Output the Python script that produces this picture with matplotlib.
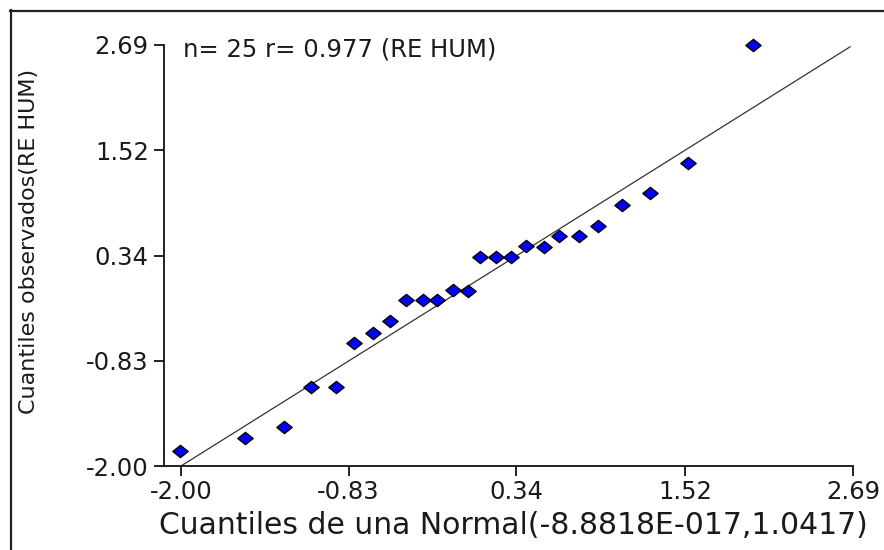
import matplotlib
matplotlib.use("Agg")
import matplotlib.pyplot as plt
from matplotlib.lines import Line2D
from matplotlib.path import Path

plt.rcParams['font.family'] = ['DejaVu Sans']
plt.rcParams['axes.unicode_minus'] = False

# Data
theo_q = [-2.01, -1.55, -1.28, -1.09, -0.92, -0.79, -0.66, -0.54, -0.43, -0.31,
          -0.21, -0.10, 0.00, 0.09, 0.20, 0.30, 0.41, 0.53, 0.64, 0.78,
          0.91, 1.08, 1.27, 1.54, 1.99]
obs_q = [-1.83, -1.69, -1.57, -1.12, -1.12, -0.63, -0.52, -0.39, -0.15, -0.15,
         -0.15, -0.04, -0.05, 0.33, 0.33, 0.33, 0.45, 0.44, 0.56, 0.56,
         0.67, 0.91, 1.04, 1.38, 2.69]
ref_line_x = [-2.00, 2.67]
ref_line_y = [-2.00, 2.67]
tick_vals = [-2.00, -0.83, 0.34, 1.52, 2.69]
tick_labels = ['-2.00', '-0.83', '0.34', '1.52', '2.69']
title_text = 'n= 25 r= 0.977 (RE HUM)'
xlabel = 'Cuantiles de una Normal(-8.8818E-017,1.0417)'
ylabel = 'Cuantiles observados(RE HUM)'

W, H = 884, 550
fig = plt.figure(figsize=(W / 100, H / 100), dpi=100)
fig.patch.set_facecolor('white')

left, right, bottom, top = 164, 853, 466, 45
ax = fig.add_axes([left / W, (H - bottom) / H, (right - left) / W, (bottom - top) / H])
ax.set_xlim(-2.1187, 2.69)
ax.set_ylim(-2.00, 2.69)

ax.plot(ref_line_x, ref_line_y, color='#333333', lw=0.9, zorder=2)

diamond = Path([(-1, 0), (0, 0.8), (1, 0), (0, -0.8), (-1, 0)],
               [Path.MOVETO, Path.LINETO, Path.LINETO, Path.LINETO, Path.CLOSEPOLY])
ax.plot(theo_q, obs_q, linestyle='none', marker=diamond, markersize=11,
        markerfacecolor='#0000FF', markeredgecolor='black', markeredgewidth=1.0,
        zorder=3, clip_on=False)

for s in ['top', 'right']:
    ax.spines[s].set_visible(False)
for s in ['left', 'bottom']:
    ax.spines[s].set_linewidth(1.3)
    ax.spines[s].set_color('#111111')

ax.set_xticks(tick_vals)
ax.set_xticklabels(tick_labels)
ax.set_yticks(tick_vals)
ax.set_yticklabels(tick_labels)
ax.tick_params(axis='both', direction='out', length=7, width=1.3, color='#111111',
               labelsize=17.5, labelcolor='#1a1a1a')
ax.tick_params(axis='x', pad=3)
ax.tick_params(axis='y', pad=4)

ax.text(0.0276, 0.99, title_text, transform=ax.transAxes, ha='left', va='center',
        fontsize=17.5, color='#1a1a1a')

ax.set_xlabel(xlabel, fontsize=21.5, color='#1a1a1a')
ax.xaxis.set_label_coords(0.507, -0.142)
ax.xaxis.label.set_va('center')
ax.set_ylabel(ylabel, fontsize=16, color='#1a1a1a')
ax.yaxis.set_label_coords(-0.196, 0.534)
ax.yaxis.label.set_va('center')

# outer frame (top and left edges visible)
fig.add_artist(Line2D([10 / W, 1.0], [(H - 11) / H, (H - 11) / H], transform=fig.transFigure,
                      color='#222222', lw=1.6))
fig.add_artist(Line2D([11 / W, 11 / W], [0.0, (H - 10) / H], transform=fig.transFigure,
                      color='#222222', lw=1.6))

fig.savefig('out.png', dpi=100)
